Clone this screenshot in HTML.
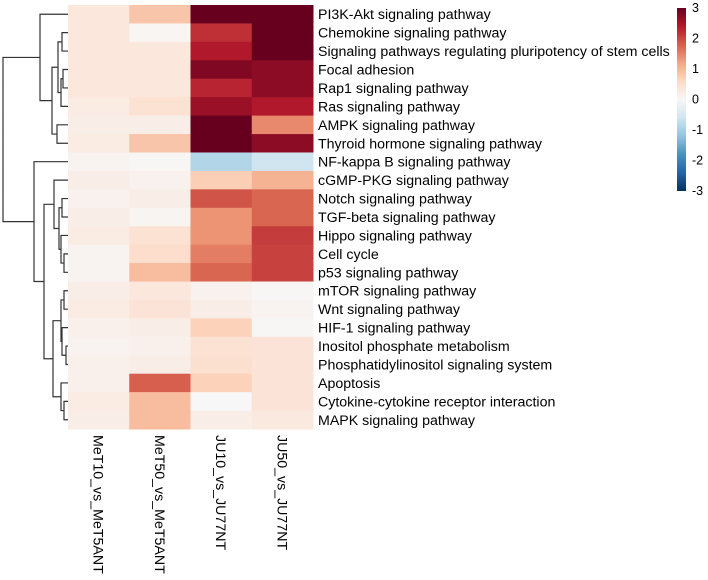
<!DOCTYPE html>
<html><head><meta charset="utf-8"><style>
body{margin:0;background:#fff;}
svg{display:block;font-family:"Liberation Sans",Arial,sans-serif;}
</style></head><body>
<svg id="chart" width="708" height="580"></svg>
<script>
const rowLabels=["PI3K-Akt signaling pathway","Chemokine signaling pathway","Signaling pathways regulating pluripotency of stem cells","Focal adhesion","Rap1 signaling pathway","Ras signaling pathway","AMPK signaling pathway","Thyroid hormone signaling pathway","NF-kappa B signaling pathway","cGMP-PKG signaling pathway","Notch signaling pathway","TGF-beta signaling pathway","Hippo signaling pathway","Cell cycle","p53 signaling pathway","mTOR signaling pathway","Wnt signaling pathway","HIF-1 signaling pathway","Inositol phosphate metabolism","Phosphatidylinositol signaling system","Apoptosis","Cytokine-cytokine receptor interaction","MAPK signaling pathway"];
const colLabels=["MeT10_vs_MeT5ANT","MeT50_vs_MeT5ANT","JU10_vs_JU77NT","JU50_vs_JU77NT"];
const col1=[0.35,0.35,0.35,0.35,0.35,0.25,0.2,0.25,0.08,0.2,0.12,0.2,0.25,0.08,0.08,0.2,0.25,0.15,0.08,0.15,0.15,0.25,0.2];
const col2=[0.85,0.05,0.35,0.35,0.35,0.45,0.2,0.85,0.02,0.12,0.2,0.06,0.45,0.55,0.95,0.35,0.4,0.2,0.15,0.2,1.8,0.95,0.95];
const col3=[3,2.2,2.4,2.8,2.3,2.6,3,3,-0.9,0.75,1.9,1.35,1.35,1.55,1.75,0.12,0.2,0.7,0.45,0.5,0.7,0.0,0.2];
const col4=[3,3,3,2.7,2.7,2.4,1.45,2.7,-0.6,1.05,1.75,1.75,2.1,2.05,2.05,0.03,0.08,0.03,0.4,0.4,0.4,0.4,0.3];
const legendTicks=[3,2,1,0,-1,-2,-3];
const NS="http://www.w3.org/2000/svg";
const svg=document.getElementById('chart');
const X0=68,X1=313,Y0=5,Y1=429;
const cw=(X1-X0)/colLabels.length, rh=(Y1-Y0)/rowLabels.length;
const pal=["#053061","#2166ac","#4393c3","#92c5de","#d1e5f0","#f7f7f7","#fddbc7","#f4a582","#d6604d","#b2182b","#67001f"];
function hex(h){return [1,3,5].map(i=>parseInt(h.substr(i,2),16));}
function color(v){v=Math.max(-3,Math.min(3,v));const t=(v+3)/6*10;const i=Math.min(9,Math.floor(t));const f=t-i;const a=hex(pal[i]),b=hex(pal[i+1]);return 'rgb('+a.map((c,k)=>Math.round(c+(b[k]-c)*f)).join(',')+')';}
function el(tag,attrs){const e=document.createElementNS(NS,tag);for(const k in attrs)e.setAttribute(k,attrs[k]);svg.appendChild(e);return e;}
const cols=[col1,col2,col3,col4];
cols.forEach((vals,c)=>{vals.forEach((v,r)=>{
  const e=el('rect',{x:X0+c*cw,y:Y0+r*rh,width:cw+0.5,height:rh+0.5,fill:color(v)});
  
  
});});
rowLabels.forEach((l,r)=>{
  const t=el('text',{x:318,y:Y0+(r+0.5)*rh+5,'font-size':14.2,fill:'#000'});t.textContent=l;
  
  
});
colLabels.forEach((l,c)=>{
  const cx=X0+(c+0.5)*cw-5;
  const t=el('text',{x:0,y:0,'font-size':14.2,fill:'#000',transform:'translate('+cx+',435) rotate(90)'});t.textContent=l;
  
  
});
const tree={x:3,c:[{x:40,c:[0,{x:52,c:[{x:58,c:[{x:62,c:[1,2]},{x:61,c:[{x:63,c:[3,4]},5]}]},{x:57,c:[6,7]}]}]},
 {x:34,c:[8,{x:44,c:[{x:54,c:[9,{x:59,c:[{x:62,c:[10,11]},{x:61,c:[12,{x:64,c:[13,14]}]}]}]},
 {x:53,c:[{x:61,c:[{x:64,c:[15,16]},{x:62,c:[17,{x:66,c:[18,19]}]}]},{x:61,c:[20,{x:64,c:[21,22]}]}]}]}]}]};
let d='';
function walk(n){if(typeof n==='number')return {x:X0,y:Y0+(n+0.5)*rh};
  const a=walk(n.c[0]),b=walk(n.c[1]);
  d+='M'+a.x+' '+a.y+'H'+n.x+'V'+b.y+'H'+b.x;
  return {x:n.x,y:(a.y+b.y)/2};}
walk(tree);
const p=el('path',{d:d,fill:'none',stroke:'#333','stroke-width':1.2});


const defs=el('defs',{});
const g=document.createElementNS(NS,'linearGradient');g.setAttribute('id','lg');g.setAttribute('x1','0');g.setAttribute('y1','1');g.setAttribute('x2','0');g.setAttribute('y2','0');
pal.forEach((c,i)=>{const s=document.createElementNS(NS,'stop');s.setAttribute('offset',i/10);s.setAttribute('stop-color',c);g.appendChild(s);});
defs.appendChild(g);
const LT=8,LB=191;
const lb=el('rect',{x:677,y:LT,width:9,height:LB-LT,fill:'url(#lg)'});


legendTicks.forEach(v=>{
  const y=LB-(v+3)/6*(LB-LT);
  const t=el('text',{x:692,y:y+4,'font-size':12.5,fill:'#000'});t.textContent=v;
  
  
});
</script>
</body></html>
